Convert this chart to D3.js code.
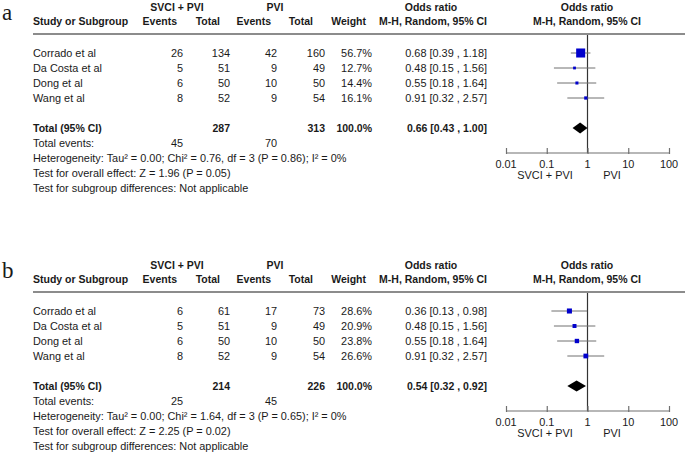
<!DOCTYPE html>
<html><head><meta charset="utf-8">
<script src="https://cdn.jsdelivr.net/npm/d3@7"></script>
<style>
html,body{margin:0;padding:0;background:#fff;}
svg{display:block;}
text{font-family:"Liberation Sans",Arial,sans-serif;font-size:10.9px;fill:#1a1a1a;}
.b{font-weight:bold;font-size:10.5px;}
</style></head><body>
<svg id="c" width="685" height="454"></svg>
<script>
// ---------- data ----------
const studies = ["Corrado et al", "Da Costa et al", "Dong et al", "Wang et al"];
const groupLabels = ["SVCI + PVI", "PVI"];
const axisTicks = [0.01, 0.1, 1, 10, 100];
const tickLabels = ["0.01", "0.1", "1", "10", "100"];

// panel a
const aExpEvents = [26, 5, 6, 8];
const aExpTotal = [134, 51, 50, 52];
const aCtlEvents = [42, 9, 10, 9];
const aCtlTotal = [160, 49, 50, 54];
const aWeight = [56.7, 12.7, 14.4, 16.1];
const aOR = [0.68, 0.48, 0.55, 0.91];
const aLow = [0.39, 0.15, 0.18, 0.32];
const aHigh = [1.18, 1.56, 1.64, 2.57];
const aPooled = [0.66, 0.43, 1.00];
const aSums = [287, 313, 45, 70];
const aHet = "Heterogeneity: Tau² = 0.00; Chi² = 0.76, df = 3 (P = 0.86); I² = 0%";
const aEffect = "Test for overall effect: Z = 1.96 (P = 0.05)";

// panel b
const bExpEvents = [6, 5, 6, 8];
const bExpTotal = [61, 51, 50, 52];
const bCtlEvents = [17, 9, 10, 9];
const bCtlTotal = [73, 49, 50, 54];
const bWeight = [28.6, 20.9, 23.8, 26.6];
const bOR = [0.36, 0.48, 0.55, 0.91];
const bLow = [0.13, 0.15, 0.18, 0.32];
const bHigh = [0.98, 1.56, 1.64, 2.57];
const bPooled = [0.54, 0.32, 0.92];
const bSums = [214, 226, 25, 45];
const bHet = "Heterogeneity: Tau² = 0.00; Chi² = 1.64, df = 3 (P = 0.65); I² = 0%";
const bEffect = "Test for overall effect: Z = 2.25 (P = 0.02)";

const subgroupText = "Test for subgroup differences: Not applicable";

// ---------- drawing ----------
const svg = d3.select("#c");
const x = d3.scaleLog().domain([0.01, 100]).range([506, 669]);
const size = d3.scaleLinear().domain([0, 60]).range([1, 9.5]);
const f2 = d3.format(".2f");
const ciText = (o, l, h) => `${f2(o)} [${f2(l)} , ${f2(h)}]`;

function panel(label, top, d) {
  const g = svg.append("g").attr("transform", `translate(0,${top})`);
  const row = d3.scaleLinear().domain([0, 1]).range([53, 68]);
  const dy = "0.35em";

  g.append("text").text(label).attr("x", 2).attr("y", 20)
    .style("font-family", "'Liberation Serif','DejaVu Serif',serif").style("font-size", "23px");

  // header
  const h1 = 7, h2 = 21;
  g.append("text").attr("class", "b").attr("x", 177).attr("y", h1).attr("dy", dy).attr("text-anchor", "middle").text(groupLabels[0]);
  g.append("text").attr("class", "b").attr("x", 275).attr("y", h1).attr("dy", dy).attr("text-anchor", "middle").text(groupLabels[1]);
  g.append("text").attr("class", "b").attr("x", 431).attr("y", h1).attr("dy", dy).attr("text-anchor", "middle").text("Odds ratio");
  g.append("text").attr("class", "b").attr("x", 587).attr("y", h1).attr("dy", dy).attr("text-anchor", "middle").text("Odds ratio");
  const hdr = [["Study or Subgroup", 33, "start"], ["Events", 177, "end"], ["Total", 220, "end"], ["Events", 271, "end"],
    ["Total", 313, "end"], ["Weight", 366, "end"], ["M-H, Random, 95% CI", 487, "end"], ["M-H, Random, 95% CI", 587, "middle"]];
  hdr.forEach(h => g.append("text").attr("class", "b").attr("x", h[1]).attr("y", h2).attr("dy", dy).attr("text-anchor", h[2]).text(h[0]));

  g.append("line").attr("x1", 33).attr("x2", 685).attr("y1", 34).attr("y2", 34).attr("stroke", "#8c8c8c").attr("stroke-width", 2);

  // study rows
  const cols = [[d.ee, 183], [d.et, 230], [d.ce, 277], [d.ct, 325]];
  studies.forEach((s, i) => {
    const y = row(i);
    g.append("text").attr("x", 33).attr("y", y).attr("dy", dy).text(s);
    cols.forEach(c => g.append("text").attr("x", c[1]).attr("y", y).attr("dy", dy).attr("text-anchor", "end").text(c[0][i]));
    g.append("text").attr("x", 372).attr("y", y).attr("dy", dy).attr("text-anchor", "end").text(d.w[i].toFixed(1) + "%");
    g.append("text").attr("x", 487).attr("y", y).attr("dy", dy).attr("text-anchor", "end").text(ciText(d.or[i], d.lo[i], d.hi[i]));
  });

  // vertical line of no effect
  g.append("line").attr("x1", x(1)).attr("x2", x(1)).attr("y1", 35).attr("y2", 153).attr("stroke", "#333").attr("stroke-width", 1.2);

  // CIs and squares
  g.selectAll(".ci").data(studies).enter().append("line")
    .attr("x1", (s, i) => x(d.lo[i])).attr("x2", (s, i) => x(d.hi[i]))
    .attr("y1", (s, i) => row(i)).attr("y2", (s, i) => row(i))
    .attr("stroke", "#707070").attr("stroke-width", 1);
  g.selectAll(".sq").data(studies).enter().append("rect")
    .attr("x", (s, i) => x(d.or[i]) - size(d.w[i]) / 2).attr("y", (s, i) => row(i) - size(d.w[i]) / 2)
    .attr("width", (s, i) => size(d.w[i])).attr("height", (s, i) => size(d.w[i]))
    .attr("fill", "#0000cc");

  // total row
  const ty = row(5);
  g.append("text").attr("class", "b").attr("x", 33).attr("y", ty).attr("dy", dy).text("Total (95% CI)");
  g.append("text").attr("class", "b").attr("x", 230).attr("y", ty).attr("dy", dy).attr("text-anchor", "end").text(d.sums[0]);
  g.append("text").attr("class", "b").attr("x", 325).attr("y", ty).attr("dy", dy).attr("text-anchor", "end").text(d.sums[1]);
  g.append("text").attr("class", "b").attr("x", 372).attr("y", ty).attr("dy", dy).attr("text-anchor", "end").text("100.0%");
  g.append("text").attr("class", "b").attr("x", 487).attr("y", ty).attr("dy", dy).attr("text-anchor", "end").text(ciText(d.pooled[0], d.pooled[1], d.pooled[2]));
  const dh = 5.5;
  g.append("path").attr("d", `M${x(d.pooled[1])},${ty} L${x(d.pooled[0])},${ty - dh} L${x(d.pooled[2])},${ty} L${x(d.pooled[0])},${ty + dh} Z`).attr("fill", "#000");

  // footnotes
  g.append("text").attr("x", 33).attr("y", row(6)).attr("dy", dy).text("Total events:");
  g.append("text").attr("x", 183).attr("y", row(6)).attr("dy", dy).attr("text-anchor", "end").text(d.sums[2]);
  g.append("text").attr("x", 277).attr("y", row(6)).attr("dy", dy).attr("text-anchor", "end").text(d.sums[3]);
  g.append("text").attr("x", 33).attr("y", row(7)).attr("dy", dy).text(d.het);
  g.append("text").attr("x", 33).attr("y", row(8)).attr("dy", dy).text(d.effect);
  g.append("text").attr("x", 33).attr("y", row(9)).attr("dy", dy).text(subgroupText);

  // axis
  const ax = g.append("g").attr("transform", "translate(0,153)");
  ax.call(d3.axisTop(x).tickValues(axisTicks).tickSize(5).tickFormat(""));
  ax.selectAll("path,line").attr("stroke", "#707070").attr("stroke-width", 1.2);
  ax.select(".domain").attr("d", `M${x(0.01)},0H${x(100)}`);
  ax.selectAll(".tick line").attr("y1", 1);
  g.selectAll(".tl").data(axisTicks).enter().append("text")
    .attr("x", v => x(v)).attr("y", 164).attr("dy", dy).attr("text-anchor", "middle")
    .text((v, i) => tickLabels[i]);
  g.append("text").attr("x", 545).attr("y", 175).attr("dy", dy).attr("text-anchor", "middle").text(groupLabels[0]);
  g.append("text").attr("x", 612).attr("y", 175).attr("dy", dy).attr("text-anchor", "middle").text(groupLabels[1]);
}

panel("a", 0, {ee: aExpEvents, et: aExpTotal, ce: aCtlEvents, ct: aCtlTotal, w: aWeight, or: aOR, lo: aLow, hi: aHigh,
  pooled: aPooled, sums: aSums, het: aHet, effect: aEffect});
panel("b", 258, {ee: bExpEvents, et: bExpTotal, ce: bCtlEvents, ct: bCtlTotal, w: bWeight, or: bOR, lo: bLow, hi: bHigh,
  pooled: bPooled, sums: bSums, het: bHet, effect: bEffect});
</script></body></html>
